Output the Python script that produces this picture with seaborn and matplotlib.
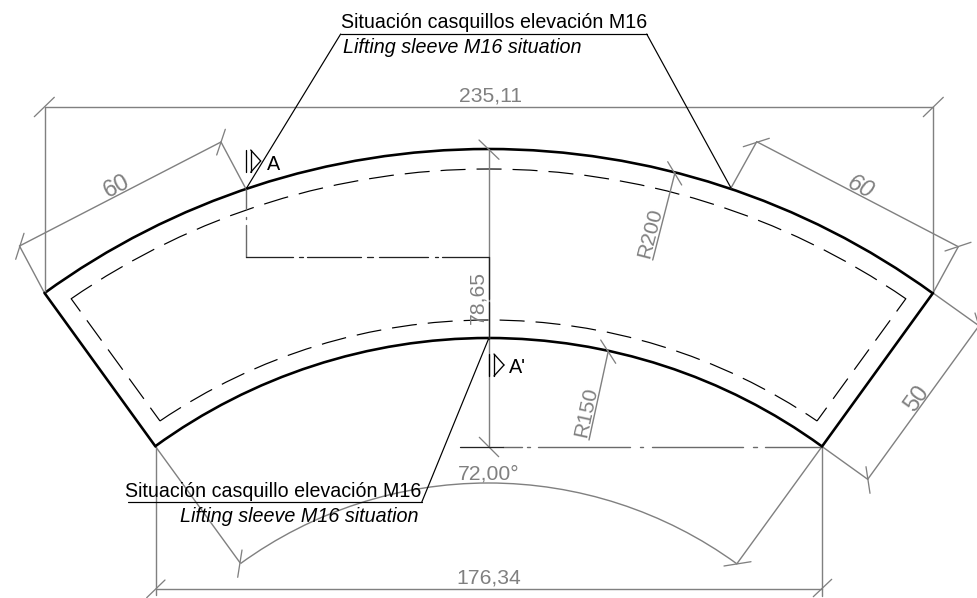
import pandas as pd
import matplotlib.pyplot as plt
from matplotlib.patches import Arc
import seaborn as sns

sns.set_theme(style="white")
plt.rcParams['font.family'] = ['Liberation Sans', 'DejaVu Sans']
plt.rcParams['lines.scale_dashes'] = False

GREY = '#808080'
DARK_GREY = '#6a6a6a'
BLACK = '#000000'
PX = 0.72  # one pixel in points at dpi 100

outline_sides = [
    (44.5, 293, 155.5, 446.5),
    (933, 293, 822, 446.5),
]
hidden_sides = [
    (71, 298.5, 160, 421),
    (906, 298.5, 817, 421),
]
dim_lines = [
    (44.5, 293, 44.5, 107), (44.5, 107, 933.3, 107), (933.3, 293, 933.3, 107),
    (44.5, 293, 19.5, 246), (19.5, 246, 221, 142), (246, 189, 221, 142),
    (731, 188, 756.7, 141.7), (756.7, 141.7, 958.3, 246.7), (933, 293, 958.3, 246.7),
    (822, 446.5, 867.7, 479.3), (867.7, 479.3, 979, 325.8), (933, 293, 979, 325.8),
    (652.7, 260, 675, 172.7), (589, 440, 608.3, 351),
    (155.5, 446.5, 240, 562.7), (822, 446.5, 736.7, 564),
    (155.5, 446.5, 155.5, 595), (822, 446.5, 822, 596), (155.5, 589.3, 822, 589.3),
    (488.5, 149, 488.5, 446.7),
]
dim_ticks = [
    (34.3, 116.7, 54.3, 97.3), (923.3, 116.7, 943.3, 97.3),
    (15.7, 259.3, 24, 233.3), (216.7, 155, 225.3, 129.3),
    (743.3, 146.7, 769.3, 138.3), (945, 251, 971, 242.3),
    (866, 466.7, 870, 493.3), (975, 313, 983, 339),
    (667.7, 161.7, 681.7, 185), (600.7, 340, 615.7, 363.3),
    (479, 140, 499, 159.3), (479.3, 437.3, 498.7, 456.7),
    (237.7, 577.3, 242, 550), (724, 566, 751, 561.7),
    (146.7, 597.7, 165, 580), (813.3, 596.7, 831.7, 579.3),
]
center_grey = [
    (246, 189, 246, 209), (246, 217, 246, 219), (246, 225, 246, 257),
    (502.7, 446.7, 521.7, 446.7), (527, 446.7, 529.5, 446.7),
    (538, 446.7, 630, 446.7), (640, 446.7, 643.3, 446.7),
    (652, 446.7, 743, 446.7), (753, 446.7, 757, 446.7), (765, 446.7, 822, 446.7),
]
center_black = [
    (246, 256.7, 293.3, 256.7), (299, 256.7, 302.7, 256.7),
    (306.7, 256.7, 360.7, 256.7), (367.3, 256.7, 373.3, 256.7),
    (379.3, 256.7, 428.3, 256.7), (435, 256.7, 438.3, 256.7),
    (441.7, 256.7, 488.5, 256.7),
    (488.5, 256.7, 488.5, 299), (488.5, 302, 488.5, 339),
    (460, 446.7, 502.7, 446.7),
]
leader_lines = [
    (246, 189, 340.7, 34), (340.7, 34, 646.7, 34), (646.7, 34, 731, 188),
    (488.5, 339, 421.7, 502.3), (421.7, 502.3, 127.7, 502.3),
]
section_marks = [
    (245.5, 150, 245.5, 172.3), (250.7, 150, 260.7, 161), (260.7, 161, 250.7, 172.3),
    (250.7, 172.3, 250.7, 150),
    (488.5, 354, 488.5, 376), (494, 354, 504, 365), (504, 365, 494, 376),
    (494, 376, 494, 354),
]

# arcs share one centre: radius and half opening angle
arc_center = (488.5, 905)
outline_radii = [756, 567]
outline_half_angle = 36
hidden_radii = [736, 585]
hidden_half_angles = [34.56, 34.17]
angle_dim_radius = 422

# label, x, baseline y, colour, style, size
flat_labels = [
    ('235,11', 490, 101.7, GREY, 'normal', 15.2),
    ('72,00°', 488.3, 479, GREY, 'normal', 15.2),
    ('176,34', 488.3, 583.3, GREY, 'normal', 15.2),
    ('A', 273.3, 170, BLACK, 'normal', 14.2),
    ("A'", 517, 372.7, BLACK, 'normal', 14.2),
    ('Situación casquillos elevación M16', 494, 28.3, BLACK, 'normal', 14.1),
    ('Lifting sleeve M16 situation', 462.5, 52.7, BLACK, 'italic', 14.2),
    ('Situación casquillo elevación M16', 273, 496.7, BLACK, 'normal', 14.1),
    ('Lifting sleeve M16 situation', 299, 521.7, BLACK, 'italic', 14.2),
]
# label, x, y, rotation, style, size
rotated_labels = [
    ('60', 116, 184.5, 27.2, 'normal', 17),
    ('60', 861.7, 185.5, -27.5, 'italic', 17),
    ('50', 915, 397, 54, 'normal', 17),
    ('R200', 648.5, 232.5, 75.7, 'normal', 15.2),
    ('R150', 584.3, 411.5, 77.8, 'normal', 15.2),
    ('78,65', 476, 297.5, 90, 'normal', 15.2),
]


def draw_segments(ax, segments, color, width, **kwargs):
    rows = []
    for i, (x1, y1, x2, y2) in enumerate(segments):
        rows.append({'seg': i, 'x': x1, 'y': y1})
        rows.append({'seg': i, 'x': x2, 'y': y2})
    df = pd.DataFrame(rows)
    sns.lineplot(data=df, x='x', y='y', units='seg', estimator=None, sort=False,
                 color=color, linewidth=width * PX, legend=False, ax=ax, **kwargs)


def draw_arc(ax, radius, half_angle, color, width, **kwargs):
    ax.add_patch(Arc(arc_center, 2 * radius, 2 * radius,
                     theta1=270 - half_angle, theta2=270 + half_angle,
                     color=color, linewidth=width * PX, **kwargs))


fig = plt.figure(figsize=(9.77, 5.98), dpi=100)
ax = fig.add_axes([0, 0, 1, 1])

draw_segments(ax, dim_lines, GREY, 1.4)
draw_segments(ax, dim_ticks, GREY, 1.3)
draw_segments(ax, center_grey, DARK_GREY, 1.4)
draw_arc(ax, angle_dim_radius, outline_half_angle, GREY, 1.4)

dash = (25 * PX, 11 * PX)
for radius, half_angle in zip(hidden_radii, hidden_half_angles):
    draw_arc(ax, radius, half_angle, BLACK, 1.2, linestyle=(0, dash))
draw_segments(ax, hidden_sides, BLACK, 1.2, linestyle=(9 * PX, dash))

draw_segments(ax, center_black, '#222222', 1.3)
draw_segments(ax, leader_lines, BLACK, 1.2)
draw_segments(ax, section_marks, BLACK, 1.3)

for radius in outline_radii:
    draw_arc(ax, radius, outline_half_angle, BLACK, 2.6)
draw_segments(ax, outline_sides, BLACK, 2.6)

for text, x, y, color, style, size in flat_labels:
    ax.text(x, y, text, color=color, style=style, fontsize=size,
            ha='center', va='baseline')
for text, x, y, rotation, style, size in rotated_labels:
    ax.text(x, y, text, rotation=rotation, color=GREY, style=style, fontsize=size,
            ha='center', va='center_baseline', rotation_mode='anchor')

ax.set_xlim(0, 977)
ax.set_ylim(598, 0)
ax.set_xlabel('')
ax.set_ylabel('')
ax.axis('off')
fig.savefig('out.png', dpi=100, facecolor='white')
